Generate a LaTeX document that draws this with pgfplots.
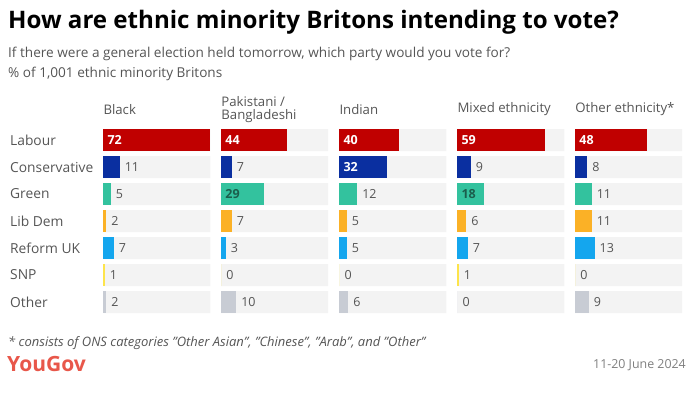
\documentclass[border=0pt]{standalone}
\usepackage{fontspec}
\setmainfont{Open Sans}
\usepackage{pgfplots}
\pgfplotsset{compat=1.18}
\definecolor{lab}{HTML}{C00000}
\definecolor{con}{HTML}{0A2FA0}
\definecolor{grn}{HTML}{33C29E}
\definecolor{ld}{HTML}{FBB126}
\definecolor{ref}{HTML}{14A6EE}
\definecolor{snp}{HTML}{FDE44B}
\definecolor{oth}{HTML}{C8CCD4}
\definecolor{track}{HTML}{F3F3F3}
\definecolor{lblgray}{HTML}{555555}
\definecolor{grntxt}{HTML}{1B5E4C}
\definecolor{yougov}{HTML}{E8574A}
\newcommand\lblfont{\fontsize{12.5}{14}\selectfont}
\newcommand\pbar[4]{%
  \addplot[xbar, bar width=22pt, bar shift=0pt, draw=none, fill=#3] coordinates {(#2,#1)};
  \ifdim #2pt<15pt
    \addplot[draw=none, mark=none, nodes near coords, point meta=explicit symbolic,
      every node near coord/.append style={anchor=west, inner sep=0pt, xshift=5pt, text=lblgray, font=\lblfont}]
      coordinates {(#2,#1) [#2]};
  \else
    \addplot[draw=none, mark=none, nodes near coords, point meta=explicit symbolic,
      every node near coord/.append style={anchor=west, inner sep=0pt, xshift=4pt, text=#4, font=\lblfont\bfseries}]
      coordinates {(0,#1) [#2]};
  \fi}
% #1 x position, #2 header, #3..#9 Labour, Con, Green, LD, Reform, SNP, Other
\newcommand\panel[9]{%
  \begin{axis}[at={(#1pt,-126.5pt)}, anchor=north west, scale only axis,
    width=107pt, height=189pt, hide axis, clip=false,
    xmin=0, xmax=72, ymin=-0.5, ymax=6.5, y dir=reverse]
    \addplot[xbar, bar width=22pt, bar shift=0pt, draw=none, fill=track]
      coordinates {(72,0) (72,1) (72,2) (72,3) (72,4) (72,5) (72,6)};
    \pbar{0}{#3}{lab}{white}
    \pbar{1}{#4}{con}{white}
    \pbar{2}{#5}{grn}{grntxt}
    \pbar{3}{#6}{ld}{black}
    \pbar{4}{#7}{ref}{white}
    \pbar{5}{#8}{snp}{black}
    \pbar{6}{#9}{oth}{black}
  \end{axis}
  \node[anchor=west, align=left, inner sep=0pt, text=lblgray, font=\fontsize{13.2}{12.5}\selectfont] at (#1pt,-109.5pt) {#2};}
\newcommand\q{\symbol{34}}
\begin{document}
\begin{tikzpicture}
\path[use as bounding box] (0,0) rectangle (700pt,-400pt);
\node[anchor=base west, inner sep=0pt, font=\fontsize{24.1}{26}\selectfont\bfseries] at (8pt,-28.3pt) {How are ethnic minority Britons intending to vote?};
\node[anchor=base west, inner sep=0pt, text=lblgray, font=\fontsize{13.6}{15}\selectfont] at (8pt,-57.3pt) {If there were a general election held tomorrow, which party would you vote for?};
\node[anchor=base west, inner sep=0pt, text=lblgray, font=\fontsize{13.6}{15}\selectfont] at (8pt,-77.3pt) {\% of 1,001 ethnic minority Britons};
\panel{103.3}{Black}{72}{11}{5}{2}{7}{1}{2}
\panel{221.2}{Pakistani /\\Bangladeshi}{44}{7}{29}{7}{3}{0}{10}
\panel{339.3}{Indian}{40}{32}{12}{5}{5}{0}{6}
\panel{457.3}{Mixed ethnicity}{59}{9}{18}{6}{7}{1}{0}
\panel{575.2}{Other ethnicity*}{48}{8}{11}{11}{13}{0}{9}
\foreach \n [count=\i from 0] in {Labour,Conservative,Green,Lib Dem,Reform UK,SNP,Other}
  \node[anchor=west, inner sep=0pt, text=lblgray, font=\fontsize{13.8}{15}\selectfont] at (10pt,{-140pt-27pt*\i}) {\n};
\node[anchor=base west, inner sep=0pt, text=lblgray, font=\fontsize{13}{14}\selectfont\itshape] at (8pt,-346.7pt) {* consists of ONS categories \q Other Asian\q, \q Chinese\q, \q Arab\q, and \q Other\q};
\node[anchor=base west, inner sep=0pt, text=yougov, font=\fontsize{21}{23}\selectfont\bfseries] at (7pt,-371.7pt) {YouGov};
\node[anchor=base east, inner sep=0pt, text=gray, font=\fontsize{12.4}{14}\selectfont] at (686pt,-368.3pt) {11-20 June 2024};
\end{tikzpicture}
\end{document}
